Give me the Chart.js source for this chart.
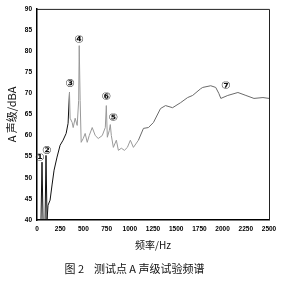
<!DOCTYPE html>
<html>
<head>
<meta charset="utf-8">
<script src="https://cdn.jsdelivr.net/npm/chart.js@4/dist/chart.umd.min.js"></script>
<style>
  body { margin: 0; background: #fff; }
  #wrap { position: relative; width: 300px; height: 283px; }
</style>
</head>
<body>
<div id="wrap"><canvas id="chart1"></canvas></div>
<script>
// frequency (Hz) and A-weighted level (dBA)
const freqHz = [0, 43, 54, 65, 87, 97, 108, 119, 141, 162, 184, 216, 249, 281, 314, 335, 350, 357, 379, 390,
  411, 433, 449, 455, 465, 476, 498, 519, 541, 563, 595, 628, 660, 703, 736, 747, 758, 779, 790, 801,
  823, 855, 877, 909, 942, 974, 1006, 1039, 1093, 1147, 1201, 1255, 1331, 1385, 1461, 1548, 1623, 1677,
  1764, 1786, 1872, 1926, 1959, 1981, 2056, 2165, 2251, 2338, 2435, 2500];
const levelDb = [40, 40, 53.7, 40, 40, 55.3, 40, 43.5, 44.7, 48.3, 51.8, 54.9, 57.7, 58.9, 60.5, 62.9, 70.2, 64.1, 63.1, 61.9,
  64.1, 62.4, 68.3, 81.3, 68.3, 58.4, 59.3, 60.5, 58.4, 60.0, 61.9, 60.0, 59.3, 60.0, 61.9, 67.1, 59.6, 61.2, 62.6, 60.0,
  57.2, 58.9, 56.5, 57.0, 56.5, 57.2, 58.9, 57.2, 58.9, 61.7, 61.9, 63.1, 66.4, 67.1, 66.6, 67.8, 69.0, 69.5,
  71.1, 71.4, 71.8, 71.4, 70.0, 68.8, 69.5, 70.2, 69.5, 68.8, 69.0, 68.8];

// circled peak markers
const markTexts = ["①", "②", "③", "④", "⑥", "⑤", "⑦"];
const markFreq = [32, 108, 357, 455, 747, 823, 2035];
const markDb = [54.6, 56.3, 72.1, 82.5, 69.0, 64.1, 71.6];

const xTicks = [0, 250, 500, 750, 1000, 1250, 1500, 1750, 2000, 2250, 2500];
const yTicks = [40, 45, 50, 55, 60, 65, 70, 75, 80, 85, 90];

const frameAndMarks = {
  id: 'frameAndMarks',
  afterDatasetsDraw(chart) {
    const ctx = chart.ctx;
    const a = chart.chartArea;
    const xs = chart.scales.x, ys = chart.scales.y;
    ctx.save();
    ctx.strokeStyle = '#222';
    ctx.lineWidth = 1;
    ctx.beginPath();
    ctx.moveTo(a.left, a.top + 0.5);
    ctx.lineTo(a.right + 0.5, a.top + 0.5);
    ctx.lineTo(a.right + 0.5, a.bottom);
    ctx.stroke();
    ctx.font = 'bold 11px "DejaVu Sans"';
    ctx.fillStyle = '#111';
    ctx.textAlign = 'center';
    ctx.textBaseline = 'middle';
    markTexts.forEach((t, i) => {
      ctx.fillText(t, xs.getPixelForValue(markFreq[i]), ys.getPixelForValue(markDb[i]));
    });
    ctx.restore();
  }
};

new Chart(document.getElementById('chart1'), {
  type: 'line',
  data: {
    datasets: [{
      data: freqHz.map((f, i) => ({ x: f, y: levelDb[i] })),
      borderWidth: 1,
      pointRadius: 0,
      tension: 0,
      segment: {
        borderColor: c => c.p0.parsed.x < 340 ? '#111' : (c.p0.parsed.x < 1050 ? '#999' : '#6a6a6a')
      }
    }]
  },
  options: {
    responsive: true,
    maintainAspectRatio: false,
    animation: false,
    layout: { padding: { left: 0, right: 31, top: 8, bottom: 0 } },
    plugins: {
      legend: { display: false },
      tooltip: { enabled: false },
      title: {
        display: true,
        position: 'bottom',
        text: '图 2    测试点 A 声级试验频谱',
        color: '#111',
        font: { family: '"Noto Sans CJK SC"', size: 11, weight: 'normal' },
        padding: { top: 11, bottom: 8 }
      }
    },
    scales: {
      x: {
        type: 'linear',
        min: 0,
        max: 2500,
        afterBuildTicks: s => { s.ticks = xTicks.map(v => ({ value: v })); },
        afterFit: s => { s.height = 30.8; },
        grid: { display: false, drawTicks: false },
        border: { display: true, color: '#000', width: 1.5 },
        ticks: {
          color: '#000', padding: 5, maxRotation: 0, autoSkip: false,
          font: { size: 6.5, weight: 'bold' },
          callback: v => String(v)
        },
        title: {
          display: true,
          text: '频率/Hz',
          color: '#111',
          font: { family: '"Noto Sans CJK SC"', size: 10 },
          padding: { top: 4, bottom: 0 }
        }
      },
      y: {
        min: 40,
        max: 90,
        afterBuildTicks: s => { s.ticks = yTicks.map(v => ({ value: v })); },
        afterFit: s => { s.width = 37; },
        grid: { display: false, drawTicks: false },
        border: { display: true, color: '#000', width: 1.5 },
        ticks: { color: '#000', padding: 5, font: { size: 6.5, weight: 'bold' }, callback: v => String(v) },
        title: {
          display: true,
          text: 'A 声级/dBA',
          color: '#111',
          font: { family: '"Noto Sans CJK SC"', size: 11 },
          padding: { top: 5, bottom: 0 }
        }
      }
    }
  },
  plugins: [frameAndMarks]
});
</script>
</body>
</html>
